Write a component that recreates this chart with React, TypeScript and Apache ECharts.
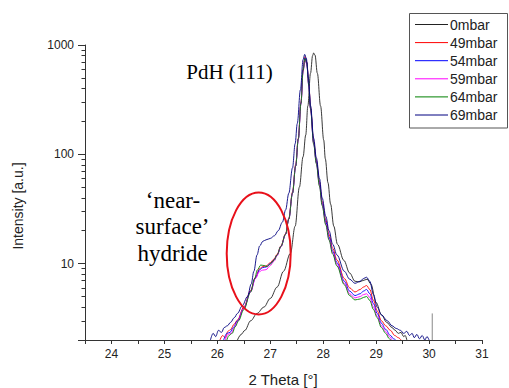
import React, { useEffect, useRef } from "react";
import * as echarts from "echarts";

const seriesNames = ["0mbar", "49mbar", "54mbar", "59mbar", "64mbar", "69mbar"];
const seriesColors = ["#222222", "#ff0000", "#0000ff", "#ff00ff", "#008000", "#000080"];

const data0mbar: number[][] = [
  [26.38, 2.0], [26.45, 2.25], [26.52, 2.45], [26.63, 3.0], [26.75, 3.5], [26.88, 4.0], [27.0, 4.8],
  [27.13, 6.1], [27.25, 8.5], [27.38, 12.4], [27.47, 22], [27.55, 50], [27.62, 95], [27.67, 150],
  [27.71, 277], [27.76, 550], [27.8, 800], [27.82, 845], [27.845, 810], [27.89, 550], [27.95, 277],
  [28.01, 135], [28.04, 91], [28.09, 55], [28.14, 35], [28.2, 22], [28.27, 15], [28.39, 10.7],
  [28.5, 8.2], [28.6, 6.9], [28.68, 6.8], [28.75, 7.0], [28.83, 7.2], [28.9, 6.5], [29.0, 4.4],
  [29.1, 3.4], [29.2, 2.9], [29.3, 2.6], [29.36, 2.45], [29.42, 2.3], [29.47, 2.35], [29.52, 2.15],
  [29.55, 2.2], [29.58, 2.0],
];

const data49mbar: number[][] = [
  [26.05, 2.0], [26.1, 2.2], [26.15, 2.1], [26.2, 2.4], [26.25, 2.5], [26.32, 2.8], [26.38, 3.05],
  [26.5, 4.0], [26.63, 5.7], [26.72, 7.5], [26.8, 9.0], [26.86, 9.4], [26.92, 9.5], [27.0, 10.2],
  [27.07, 11.0], [27.13, 12.2], [27.2, 14.5], [27.29, 18.8], [27.35, 26], [27.42, 45], [27.48, 80],
  [27.53, 140], [27.58, 300], [27.62, 600], [27.655, 780], [27.69, 700], [27.73, 430], [27.76, 270],
  [27.82, 132], [27.87, 88], [27.93, 56], [27.98, 37], [28.05, 25], [28.11, 18.5], [28.18, 13.8],
  [28.26, 10.8], [28.4, 7.3], [28.5, 6.0], [28.6, 5.5], [28.7, 5.8], [28.76, 6.1], [28.82, 6.3],
  [28.88, 5.8], [28.95, 4.6], [29.02, 3.7], [29.1, 3.0], [29.18, 2.7], [29.27, 2.45], [29.35, 2.2],
  [29.42, 2.1], [29.47, 2.0],
];

const data54mbar: number[][] = [
  [26.12, 2.0], [26.18, 2.3], [26.24, 2.35], [26.3, 2.6], [26.38, 3.0], [26.5, 3.9], [26.63, 5.6],
  [26.72, 7.4], [26.8, 8.8], [26.86, 9.2], [26.92, 9.3], [27.0, 10.0], [27.07, 10.8], [27.13, 12.0],
  [27.2, 14.3], [27.29, 18.5], [27.35, 25.5], [27.42, 44], [27.48, 78], [27.53, 138], [27.58, 295],
  [27.62, 590], [27.655, 760], [27.69, 690], [27.73, 420], [27.76, 265], [27.82, 128], [27.87, 85],
  [27.93, 54], [27.98, 35.5], [28.05, 24], [28.11, 17.5], [28.18, 13], [28.26, 10.2], [28.4, 6.9],
  [28.5, 5.6], [28.6, 5.1], [28.7, 5.3], [28.76, 5.6], [28.82, 5.8], [28.88, 5.3], [28.95, 4.3],
  [29.02, 3.5], [29.1, 2.85], [29.18, 2.5], [29.27, 2.2], [29.33, 2.05], [29.37, 2.0],
];

const data59mbar: number[][] = [
  [26.15, 2.0], [26.2, 2.25], [26.26, 2.3], [26.32, 2.6], [26.38, 2.95], [26.5, 3.9], [26.63, 5.5],
  [26.72, 7.3], [26.79, 8.4], [26.85, 8.7], [26.92, 8.8], [27.0, 9.6], [27.07, 10.5], [27.13, 11.8],
  [27.2, 14.2], [27.29, 18.5], [27.35, 25.5], [27.42, 44], [27.48, 78], [27.53, 138], [27.58, 290],
  [27.62, 570], [27.655, 730], [27.69, 670], [27.73, 415], [27.76, 260], [27.82, 125], [27.87, 83],
  [27.93, 52], [27.98, 34.5], [28.05, 23], [28.11, 16.8], [28.18, 12.5], [28.26, 9.8], [28.4, 6.6],
  [28.5, 5.3], [28.6, 4.85], [28.7, 5.0], [28.76, 5.2], [28.82, 5.3], [28.88, 4.9], [28.95, 4.0],
  [29.02, 3.3], [29.1, 2.7], [29.18, 2.4], [29.25, 2.15], [29.3, 2.0],
];

const data64mbar: number[][] = [
  [26.18, 2.0], [26.22, 2.2], [26.28, 2.3], [26.34, 2.65], [26.4, 3.0], [26.5, 3.8], [26.63, 5.5],
  [26.7, 7.2], [26.76, 8.8], [26.82, 9.7], [26.88, 9.6], [26.94, 9.4], [27.0, 9.9], [27.07, 10.7],
  [27.13, 12.0], [27.2, 14.3], [27.29, 18.6], [27.35, 25.5], [27.42, 44], [27.48, 78], [27.53, 138],
  [27.58, 292], [27.62, 580], [27.655, 750], [27.69, 680], [27.73, 418], [27.76, 262], [27.82, 124],
  [27.87, 82], [27.93, 51], [27.98, 34], [28.05, 22.5], [28.11, 16.4], [28.18, 12.2], [28.26, 9.5],
  [28.4, 6.4], [28.5, 5.1], [28.6, 4.65], [28.7, 4.75], [28.76, 4.9], [28.82, 5.0], [28.88, 4.6],
  [28.95, 3.8], [29.02, 3.2], [29.1, 2.6], [29.18, 2.3], [29.25, 2.05], [29.28, 2.0],
];

const data69mbar: number[][] = [
  [25.87, 2.0], [25.92, 2.3], [25.97, 2.15], [26.02, 2.45], [26.08, 2.35], [26.13, 2.6], [26.19, 2.7],
  [26.25, 2.9], [26.32, 3.2], [26.38, 3.5], [26.47, 4.1], [26.57, 5.0], [26.64, 6.5], [26.69, 8.5],
  [26.75, 12.0], [26.8, 14.5], [26.86, 16.0], [26.92, 16.5], [27.0, 17.0], [27.08, 18.0], [27.15, 20.0],
  [27.23, 24], [27.29, 31], [27.35, 44], [27.42, 75], [27.47, 125], [27.51, 191], [27.57, 390],
  [27.62, 733], [27.65, 820], [27.68, 760], [27.72, 500], [27.76, 280], [27.82, 140], [27.87, 93],
  [27.93, 60], [27.98, 40], [28.05, 27], [28.11, 20], [28.18, 15], [28.26, 12], [28.4, 8.5],
  [28.5, 7.2], [28.6, 6.6], [28.7, 6.9], [28.76, 7.3], [28.82, 7.5], [28.88, 6.9], [28.95, 5.2],
  [29.02, 4.0], [29.1, 3.4], [29.21, 3.0], [29.3, 2.7], [29.38, 2.55], [29.46, 2.45], [29.52, 2.3],
  [29.58, 2.4], [29.63, 2.2], [29.68, 2.3], [29.72, 2.1], [29.77, 2.25], [29.82, 2.05], [29.87, 2.2],
  [29.92, 2.0], [29.96, 2.15], [30.0, 2.0],
];

const dataSpike: number[][] = [[30.06, 2.0], [30.06, 3.5]];

const seriesData = [data0mbar, data49mbar, data54mbar, data59mbar, data64mbar, data69mbar];

const xLabelValues = [24, 25, 26, 27, 28, 29, 30, 31];
const yLabelValues = [10, 100, 1000];

export default function App() {
  const ref = useRef<HTMLDivElement>(null);
  useEffect(() => {
    document.body.style.margin = "0";
    if (!ref.current) return;
    const chart = echarts.init(ref.current, undefined, { renderer: "svg" });
    const font = "'Liberation Sans', Arial, sans-serif";
    const serif = "'Liberation Serif', 'Times New Roman', serif";
    const lines: any[] = seriesNames.map((name, i) => ({
      name,
      type: "line",
      data: seriesData[i],
      symbol: "none",
      showSymbol: false,
      smooth: 0.35,
      smoothMonotone: "x",
      lineStyle: { color: seriesColors[i], width: 0.9 },
      itemStyle: { color: seriesColors[i] },
      z: 2 + i,
    }));
    lines.push({
      name: "spike",
      type: "line",
      data: dataSpike,
      symbol: "none",
      lineStyle: { color: "#888888", width: 1 },
      itemStyle: { color: "#888888" },
    });

    // legend drawn as a boxed key
    const legendLeft = 409.5;
    const legendTop = 13.5;
    const rowStart = 24.5;
    const rowStep = 18.1;
    const legendChildren: any[] = [
      {
        type: "rect",
        shape: { x: legendLeft, y: legendTop, width: 98, height: 114.5 },
        style: { fill: "#fff", stroke: "#555555", lineWidth: 1 },
      },
    ];
    seriesNames.forEach((name, i) => {
      const y = rowStart + i * rowStep;
      legendChildren.push({
        type: "line",
        shape: { x1: 415, y1: y, x2: 448, y2: y },
        style: { stroke: seriesColors[i], lineWidth: 1 },
      });
      legendChildren.push({
        type: "text",
        x: 450,
        y,
        style: { text: name, fontFamily: font, fontSize: 14, fill: "#222", align: "left", verticalAlign: "middle" },
      });
    });

    chart.setOption({
      animation: false,
      grid: { left: 85, right: 27, top: 45, bottom: 48, containLabel: false },
      xAxis: {
        type: "value",
        min: 23.5,
        max: 31,
        interval: 0.5,
        axisLine: { lineStyle: { color: "#333", width: 1 } },
        axisTick: { show: true, length: 4, lineStyle: { color: "#333" } },
        splitLine: { show: false },
        axisLabel: {
          margin: 8,
          fontFamily: font,
          fontSize: 12,
          color: "#222",
          formatter: (v: number) => (xLabelValues.indexOf(v) >= 0 ? String(v) : ""),
        },
      },
      yAxis: {
        type: "log",
        logBase: 10,
        min: 2,
        max: 1000,
        axisLine: { show: true, lineStyle: { color: "#333", width: 1 } },
        axisTick: { show: true, length: 7, lineStyle: { color: "#333" } },
        minorTick: { show: true, splitNumber: 9, length: 3.5, lineStyle: { color: "#333" } },
        splitLine: { show: false },
        axisLabel: {
          margin: 11,
          fontFamily: font,
          fontSize: 12,
          color: "#222",
          showMinLabel: false,
          formatter: (v: number) => (yLabelValues.indexOf(Math.round(v)) >= 0 ? String(Math.round(v)) : ""),
        },
      },
      graphic: [
        { type: "group", children: legendChildren, z: 50 },
        {
          type: "text",
          x: 18,
          y: 206,
          rotation: Math.PI / 2,
          style: {
            text: "Intensity [a.u.]",
            fontFamily: font,
            fontSize: 14,
            fill: "#222",
            align: "center",
            verticalAlign: "middle",
          },
        },
        {
          type: "text",
          x: 283,
          y: 379,
          style: {
            text: "2 Theta [°]",
            fontFamily: font,
            fontSize: 15,
            fill: "#222",
            align: "center",
            verticalAlign: "middle",
          },
        },
        {
          type: "text",
          x: 229.5,
          y: 72,
          style: { text: "PdH (111)", fontFamily: serif, fontSize: 21, fill: "#000", align: "center", verticalAlign: "middle" },
        },
        {
          type: "text",
          x: 173,
          y: 200.5,
          style: { text: "\u2018near-", fontFamily: serif, fontSize: 23, fill: "#000", align: "center", verticalAlign: "middle" },
        },
        {
          type: "text",
          x: 172.5,
          y: 226.5,
          style: { text: "surface\u2019", fontFamily: serif, fontSize: 23, fill: "#000", align: "center", verticalAlign: "middle" },
        },
        {
          type: "text",
          x: 172.5,
          y: 253,
          style: { text: "hydride", fontFamily: serif, fontSize: 23, fill: "#000", align: "center", verticalAlign: "middle" },
        },
        {
          type: "ellipse",
          shape: { cx: 258.7, cy: 253.5, rx: 32, ry: 61 },
          style: { fill: "none", stroke: "#e8101a", lineWidth: 2 },
          z: 100,
        },
      ],
      series: lines,
    });
    return () => chart.dispose();
  }, []);
  return <div ref={ref} style={{ width: 509, height: 388 }} />;
}
